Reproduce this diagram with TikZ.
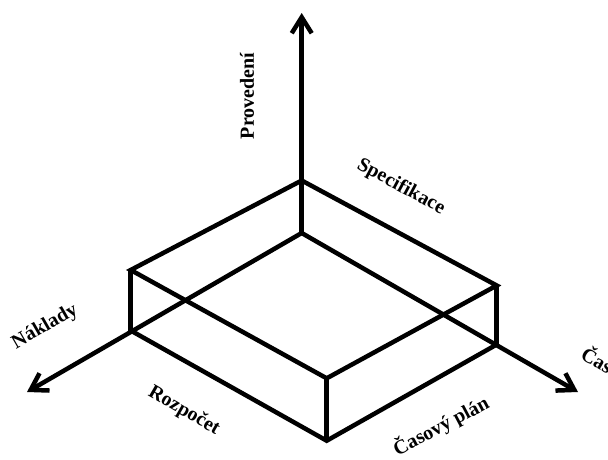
\documentclass[tikz,border=0pt]{standalone}
\usepackage{fontspec}
\setmainfont{Liberation Serif}
\usetikzlibrary{arrows.meta}
\begin{document}
\begin{tikzpicture}[x=1pt,y=-1pt,line width=4.5pt,
	osa/.style={-{Straight Barb[length=16pt,width=20pt]}},
	popis/.style={font=\bfseries\fontsize{20}{24}\selectfont,inner sep=0pt}]
	% --- Hranice obrazku ---
	\useasboundingbox (0,0) rectangle (608,459);
	% --- Vrcholy kvadru ---
	\coordinate (O) at (301.7,233);
	\coordinate (T) at (301.7,180.5);
	\coordinate (L) at (130.7,270);
	\coordinate (LB) at (130.7,330.5);
	\coordinate (R) at (496.7,285.5);
	\coordinate (RB) at (496.7,344.5);
	\coordinate (F) at (326.7,378.3);
	\coordinate (FB) at (326.7,440.7);
	% --- Konce os ---
	\coordinate (nahoru) at (301.7,13);
	\coordinate (vlevo) at (27,392);
	\coordinate (vpravo) at (578,392);
	% --- Osy ---
	\draw[osa] (O)--(nahoru);
	\draw[osa] (O)--(vlevo);
	\draw[osa] (O)--(vpravo);
	% --- Kvadr ---
	\draw (L)--(T)--(R)--(F)--cycle;
	\draw (LB)--(FB)--(RB);
	\draw (L)--(LB) (R)--(RB) (F)--(FB);
	% --- Popisky ---
	\node[popis,rotate=90] (proved) at (247,96) {Provedení};
	\node[popis,rotate=-28.3] (spec) at (401,187) {Specifikace};
	\node[popis,rotate=30] (nakl) at (45,327) {Náklady};
	\node[popis,rotate=-30] (rozp) at (184,411) {Rozpočet};
	\node[popis,rotate=28] (plan) at (441,426) {Časový plán};
	\node[popis,rotate=-30,anchor=west] (cas) at (582,350) {Čas};
\end{tikzpicture}
\end{document}
